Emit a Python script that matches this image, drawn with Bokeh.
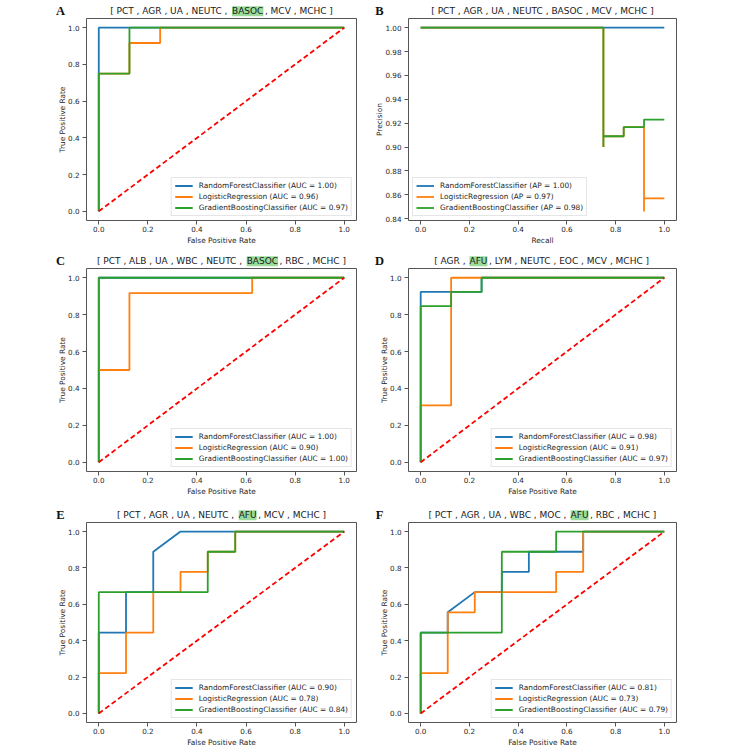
from bokeh.plotting import figure
from bokeh.models import Range1d, FixedTicker, NumeralTickFormatter, Legend, LegendItem, Label
from bokeh.layouts import column, row
from bokeh.embed import file_html
from bokeh.resources import INLINE

# ---------------- data ----------------
roc_ticks = [0.0, 0.2, 0.4, 0.6, 0.8, 1.0]
pr_yticks = [0.84, 0.86, 0.88, 0.90, 0.92, 0.94, 0.96, 0.98, 1.00]
chance_x = [0.0, 1.0]
chance_y = [0.0, 1.0]
model_names = ["RandomForestClassifier", "LogisticRegression", "GradientBoostingClassifier"]

# Panel A (ROC)
a_title = ["[ PCT , AGR , UA , NEUTC ,", "BASOC", ", MCV , MCHC ]"]
a_rf_fpr = [0.0, 0.0, 1.0]
a_rf_tpr = [0.0, 1.0, 1.0]
a_lr_fpr = [0.0, 0.0, 0.125, 0.125, 0.25, 0.25, 1.0]
a_lr_tpr = [0.0, 0.75, 0.75, 0.9167, 0.9167, 1.0, 1.0]
a_gb_fpr = [0.0, 0.0, 0.125, 0.125, 1.0]
a_gb_tpr = [0.0, 0.75, 0.75, 1.0, 1.0]
a_auc = [1.00, 0.96, 0.97]

# Panel B (precision-recall)
b_title = ["[ PCT , AGR , UA , NEUTC , BASOC , MCV , MCHC ]", "", ""]
b_rf_recall = [1.0, 0.0]
b_rf_precision = [1.0, 1.0]
b_lr_recall = [1.0, 0.9167, 0.9167, 0.8333, 0.75, 0.75, 0.0]
b_lr_precision = [0.857, 0.846, 0.9167, 0.909, 0.90, 1.0, 1.0]
b_gb_recall = [1.0, 0.9167, 0.8333, 0.75, 0.75, 0.0]
b_gb_precision = [0.923, 0.9167, 0.909, 0.90, 1.0, 1.0]
b_ap = [1.00, 0.97, 0.98]

# Panel C (ROC)
c_title = ["[ PCT , ALB , UA , WBC , NEUTC ,", "BASOC", ", RBC , MCHC ]"]
c_rf_fpr = [0.0, 0.0, 1.0]
c_rf_tpr = [0.0, 1.0, 1.0]
c_lr_fpr = [0.0, 0.0, 0.125, 0.125, 0.625, 0.625, 1.0]
c_lr_tpr = [0.0, 0.5, 0.5, 0.9167, 0.9167, 1.0, 1.0]
c_gb_fpr = [0.0, 0.0, 1.0]
c_gb_tpr = [0.0, 1.0, 1.0]
c_auc = [1.00, 0.90, 1.00]

# Panel D (ROC)
d_title = ["[ AGR ,", "AFU", ", LYM , NEUTC , EOC , MCV , MCHC ]"]
d_rf_fpr = [0.0, 0.0, 0.25, 0.25, 1.0]
d_rf_tpr = [0.0, 0.923, 0.923, 1.0, 1.0]
d_lr_fpr = [0.0, 0.0, 0.125, 0.125, 1.0]
d_lr_tpr = [0.0, 0.308, 0.308, 1.0, 1.0]
d_gb_fpr = [0.0, 0.0, 0.125, 0.125, 0.25, 0.25, 1.0]
d_gb_tpr = [0.0, 0.846, 0.846, 0.923, 0.923, 1.0, 1.0]
d_auc = [0.98, 0.91, 0.97]

# Panel E (ROC)
e_title = ["[ PCT , AGR , UA , NEUTC ,", "AFU", ", MCV , MCHC ]"]
e_rf_fpr = [0.0, 0.0, 0.111, 0.111, 0.222, 0.222, 0.333, 1.0]
e_rf_tpr = [0.0, 0.444, 0.444, 0.667, 0.667, 0.889, 1.0, 1.0]
e_lr_fpr = [0.0, 0.0, 0.111, 0.111, 0.222, 0.222, 0.333, 0.333, 0.444, 0.444, 0.556, 0.556, 1.0]
e_lr_tpr = [0.0, 0.222, 0.222, 0.444, 0.444, 0.667, 0.667, 0.778, 0.778, 0.889, 0.889, 1.0, 1.0]
e_gb_fpr = [0.0, 0.0, 0.444, 0.444, 0.556, 0.556, 1.0]
e_gb_tpr = [0.0, 0.667, 0.667, 0.889, 0.889, 1.0, 1.0]
e_auc = [0.90, 0.78, 0.84]

# Panel F (ROC)
f_title = ["[ PCT , AGR , UA , WBC , MOC ,", "AFU", ", RBC , MCHC ]"]
f_rf_fpr = [0.0, 0.0, 0.111, 0.111, 0.222, 0.333, 0.333, 0.444, 0.444, 0.667, 0.667, 1.0]
f_rf_tpr = [0.0, 0.444, 0.444, 0.556, 0.667, 0.667, 0.778, 0.778, 0.889, 0.889, 1.0, 1.0]
f_lr_fpr = [0.0, 0.0, 0.111, 0.111, 0.222, 0.222, 0.556, 0.556, 0.667, 0.667, 1.0]
f_lr_tpr = [0.0, 0.222, 0.222, 0.556, 0.556, 0.667, 0.667, 0.778, 0.778, 1.0, 1.0]
f_gb_fpr = [0.0, 0.0, 0.333, 0.333, 0.556, 0.556, 1.0]
f_gb_tpr = [0.0, 0.444, 0.444, 0.889, 0.889, 1.0, 1.0]
f_auc = [0.81, 0.73, 0.79]

# ---------------- style ----------------
COLORS = ["#1f77b4", "#ff7f0e", "#2ca02c"]
SPINE = "#555555"
TEXT = "#262626"
HILITE = "#9bdc9b"
FONT = "DejaVu Sans"
TITLE_FS = 9.0
# DejaVu Sans advance widths (units per em = 2048), used to lay out the title pieces
ADV = {' ': 651, ',': 651, '[': 799, ']': 799, 'A': 1401, 'B': 1405, 'C': 1430, 'E': 1294,
       'F': 1178, 'G': 1587, 'H': 1540, 'L': 1141, 'M': 1767, 'N': 1532, 'O': 1612,
       'P': 1235, 'R': 1423, 'S': 1300, 'T': 1251, 'U': 1499, 'V': 1401, 'W': 2025, 'Y': 1251}


def tw(s, fs):
    return sum(ADV.get(ch, 1300) for ch in s) / 2048.0 * fs


def make_fig(W, H, bl, br, bt, bb, yr, yticks, yfmt, xlab, ylab):
    p = figure(width=W, height=H, x_range=Range1d(-0.05, 1.05), y_range=yr,
               output_backend="svg", toolbar_location=None,
               min_border_left=bl, min_border_right=br, min_border_top=bt, min_border_bottom=bb,
               background_fill_color="white", border_fill_color="white")
    p.outline_line_color = SPINE
    p.outline_line_width = 1
    p.xgrid.visible = False
    p.ygrid.visible = False
    p.xaxis.ticker = FixedTicker(ticks=roc_ticks)
    p.xaxis.formatter = NumeralTickFormatter(format="0.0")
    p.yaxis.ticker = FixedTicker(ticks=yticks)
    p.yaxis.formatter = NumeralTickFormatter(format=yfmt)
    for ax in (p.xaxis, p.yaxis):
        ax.axis_line_color = None
        ax.major_tick_line_color = SPINE
        ax.major_tick_out = 4
        ax.major_tick_in = 0
        ax.minor_tick_line_color = None
        ax.major_label_text_font = FONT
        ax.major_label_text_font_size = "7.2px"
        ax.major_label_text_color = TEXT
        ax.axis_label_text_font = FONT
        ax.axis_label_text_font_size = "7.4px"
        ax.axis_label_text_font_style = "normal"
        ax.axis_label_text_color = TEXT
    p.xaxis.major_label_standoff = 1
    p.xaxis.axis_label_standoff = 1
    p.yaxis.major_label_standoff = 3
    p.yaxis.axis_label_standoff = -2
    p.xaxis.axis_label = xlab
    p.yaxis.axis_label = ylab
    return p


def make_header(W, hh, bl, fw, pieces, letter, letter_dx):
    """A strip above a panel holding its letter and its (partly highlighted) title."""
    h = figure(width=W, height=hh, x_range=Range1d(0, W), y_range=Range1d(0, hh),
               output_backend="svg", toolbar_location=None,
               x_axis_location=None, y_axis_location=None,
               min_border_left=0, min_border_right=0, min_border_top=0, min_border_bottom=0,
               background_fill_color="white", border_fill_color="white")
    h.outline_line_color = None
    h.grid.visible = False
    yc = 6.3
    xc = bl + fw / 2.0
    left, hl, right = pieces
    common = dict(y=yc, text_baseline="middle", text_align="left",
                  text_font=FONT, text_font_size=f"{TITLE_FS}px", text_color="#1a1a1a")
    if hl:
        wl, wh, wr = tw(left, TITLE_FS), tw(hl, TITLE_FS), tw(right, TITLE_FS)
        gap = tw(" ", TITLE_FS) + 1.0
        gap2 = 1.5
        total = wl + gap + wh + gap2 + wr
        x0 = xc - total / 2.0
        h.add_layout(Label(x=x0, text=left, **common))
        h.add_layout(Label(x=x0 + wl + gap, text=hl, background_fill_color=HILITE,
                           background_fill_alpha=1.0, **common))
        h.add_layout(Label(x=x0 + wl + gap + wh + gap2, text=right, **common))
    else:
        c2 = dict(common)
        c2["text_align"] = "center"
        h.add_layout(Label(x=xc, text=left, **c2))
    h.add_layout(Label(x=bl + letter_dx, y=yc + 0.5, text=letter,
                       text_align="center", text_baseline="middle", text_font="Liberation Serif",
                       text_font_style="bold", text_font_size="12.5px", text_color="#111111"))
    return h


def style_legend(p, items, loc):
    lg = Legend(items=items, location=loc)
    lg.label_text_font = FONT
    lg.label_text_font_size = "7.4px"
    lg.label_text_color = TEXT
    lg.glyph_width = 18
    lg.glyph_height = 9
    lg.label_height = 9
    lg.label_standoff = 6
    lg.spacing = 2
    lg.padding = 3
    lg.margin = 4
    lg.border_line_color = "#cccccc"
    lg.border_line_width = 1
    lg.background_fill_alpha = 0.85
    p.add_layout(lg)


def roc_panel(W, H, bl, br, bt, bb, curves, aucs):
    p = make_fig(W, H, bl, br, bt, bb, Range1d(-0.05, 1.05), roc_ticks, "0.0",
                 "False Positive Rate", "True Positive Rate")
    items = []
    for (fx, ty), col, name, auc in zip(curves, COLORS, model_names, aucs):
        r = p.line(fx, ty, line_color=col, line_width=1.8)
        items.append(LegendItem(label=f"{name} (AUC = {auc:.2f})", renderers=[r]))
    p.line(chance_x, chance_y, line_color="red", line_dash="5 3", line_width=1.8)
    style_legend(p, items, "bottom_right")
    return p


def pr_panel(W, H, bl, br, bt, bb, curves, aps):
    p = make_fig(W, H, bl, br, bt, bb, Range1d(0.8384, 1.0077), pr_yticks, "0.00",
                 "Recall", "Precision")
    items = []
    for (rx, py), col, name, ap in zip(curves, COLORS, model_names, aps):
        r = p.step(rx, py, mode="after", line_color=col, line_width=1.8)
        items.append(LegendItem(label=f"{name} (AP = {ap:.2f})", renderers=[r]))
    style_legend(p, items, "bottom_left")
    return p


# ---------------- geometry ----------------
LW, LBL, LBR, LFW = 363, 86, 7, 270      # left column: width, borders, frame width
RW, RBL, RBR, RFW = 323, 45, 10, 268     # right column
# per row: header height, frame height, bottom border
ROWS = [(17, 202, 34), (13, 203, 37), (13, 201, 26)]
BT = 1


def panel(kind, col, r, curves, vals, title, letter):
    hh, fh, bb = ROWS[r]
    if col == 0:
        W, bl, br, fw, ldx = LW, LBL, LBR, LFW, -26
    else:
        W, bl, br, fw, ldx = RW, RBL, RBR, RFW, -29
    H = BT + fh + bb
    if kind == "roc":
        p = roc_panel(W, H, bl, br, BT, bb, curves, vals)
    else:
        p = pr_panel(W, H, bl, br, BT, bb, curves, vals)
    h = make_header(W, hh, bl, fw, title, letter, ldx)
    return h, p


hA, pA = panel("roc", 0, 0, [(a_rf_fpr, a_rf_tpr), (a_lr_fpr, a_lr_tpr), (a_gb_fpr, a_gb_tpr)], a_auc, a_title, "A")
hB, pB = panel("pr", 1, 0, [(b_rf_recall, b_rf_precision), (b_lr_recall, b_lr_precision),
                            (b_gb_recall, b_gb_precision)], b_ap, b_title, "B")
hC, pC = panel("roc", 0, 1, [(c_rf_fpr, c_rf_tpr), (c_lr_fpr, c_lr_tpr), (c_gb_fpr, c_gb_tpr)], c_auc, c_title, "C")
hD, pD = panel("roc", 1, 1, [(d_rf_fpr, d_rf_tpr), (d_lr_fpr, d_lr_tpr), (d_gb_fpr, d_gb_tpr)], d_auc, d_title, "D")
hE, pE = panel("roc", 0, 2, [(e_rf_fpr, e_rf_tpr), (e_lr_fpr, e_lr_tpr), (e_gb_fpr, e_gb_tpr)], e_auc, e_title, "E")
hF, pF = panel("roc", 1, 2, [(f_rf_fpr, f_rf_tpr), (f_lr_fpr, f_lr_tpr), (f_gb_fpr, f_gb_tpr)], f_auc, f_title, "F")

layout = column(row(hA, hB), row(pA, pB), row(hC, hD), row(pC, pD), row(hE, hF), row(pE, pF))
open("out.html", "w").write(file_html(layout, INLINE))
